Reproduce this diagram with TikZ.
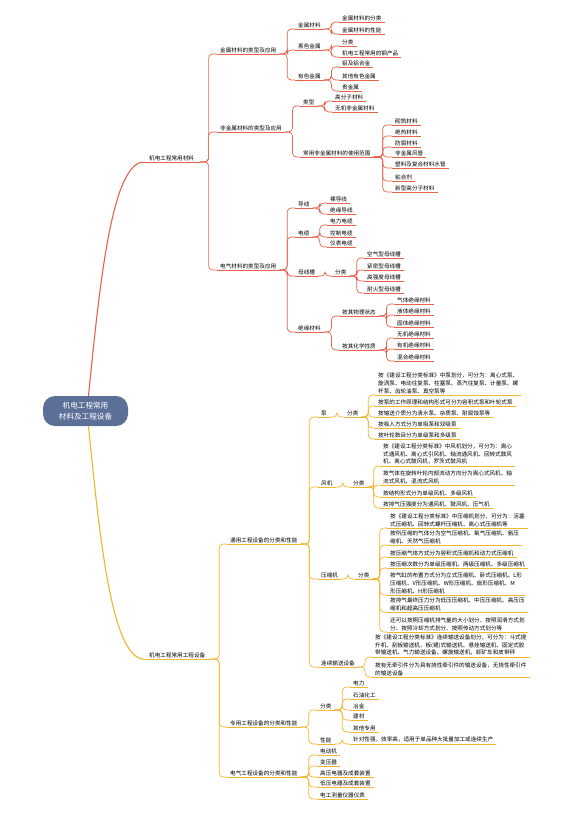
\documentclass[tikz,border=0pt]{standalone}
\usepackage{fontspec}
\setmainfont{Noto Sans CJK SC}
\usetikzlibrary{calc}
\definecolor{matred}{HTML}{E8624C}
\definecolor{devyel}{HTML}{F3B431}
\definecolor{rootblue}{HTML}{5B6F97}
\begin{document}
\begin{tikzpicture}[x=1pt,y=-1pt,
every node/.style={anchor=south west,inner xsep=3pt,inner ysep=1.3pt,align=left,text=black,font=\fontsize{5.6}{7.6}\selectfont},
root/.style={anchor=center,fill=rootblue,text=white,rounded corners=12pt,minimum width=85pt,minimum height=30pt,align=center,font=\fontsize{7.6}{10.5}\selectfont},
rt/.style={append after command={(\tikzlastnode.south west) edge[draw=matred,line width=.7pt] (\tikzlastnode.south east)}},
yt/.style={append after command={(\tikzlastnode.south west) edge[draw=devyel,line width=.7pt] (\tikzlastnode.south east)}},
link/.style={line width=.7pt,rounded corners=4pt,to path={-- ($(\tikztostart)!.5!(\tikztostart-|\tikztotarget)$) |- (\tikztotarget)}},
rl/.style={link,draw=matred},
yl/.style={link,draw=devyel}
]
\fill[white] (0,0) rectangle (585,813);

\node[root] (root) at (85.5,411) {机电工程常用\\材料及工程设备};

% materials
\node[rt,inner xsep=6pt] (m1) at (143,162) {机电工程常用材料};
\draw[matred,line width=1.1pt] ([xshift=3pt]root.north) .. controls (100,280) and (112,165) .. (m1.south west);

\node[rt] (a1) at (217,54) {金属材料的类型及应用};
\node[rt] (a2) at (217,132) {非金属材料的类型及应用};
\node[rt] (a3) at (217,270) {电气材料的类型及应用};
\foreach \n in {a1,a2,a3} \draw[rl] (m1.south east) to (\n.south west);

\node[rt] (b1) at (295,29) {金属材料};
\node[rt] (b2) at (295,50) {黑色金属};
\node[rt] (b3) at (295,80) {有色金属};
\foreach \n in {b1,b2,b3} \draw[rl] (a1.south east) to (\n.south west);
\foreach \t/\y [count=\i] in {金属材料的分类/22,金属材料的性能/34}
  {\node[rt] (b1-\i) at (339,\y) {\t}; \draw[rl] (b1.south east) to (b1-\i.south west);}
\foreach \t/\y [count=\i] in {分类/46,机电工程常用的钢产品/57}
  {\node[rt] (b2-\i) at (339,\y) {\t}; \draw[rl] (b2.south east) to (b2-\i.south west);}
\foreach \t/\y [count=\i] in {铝及铝合金/67,其他有色金属/80,贵金属/91}
  {\node[rt] (b3-\i) at (339,\y) {\t}; \draw[rl] (b3.south east) to (b3-\i.south west);}

\node[rt] (b4) at (300,106) {类型};
\node[rt] (b5) at (300,157) {常用非金属材料的使用范围};
\foreach \n in {b4,b5} \draw[rl] (a2.south east) to (\n.south west);
\foreach \t/\y [count=\i] in {高分子材料/101,无机非金属材料/112}
  {\node[rt] (b4-\i) at (332,\y) {\t}; \draw[rl] (b4.south east) to (b4-\i.south west);}
\foreach \t/\y [count=\i] in {砌筑材料/125,绝热材料/136,防腐材料/147,非金属风管/157,塑料及复合材料水管/168,粘合剂/181,新型高分子材料/192}
  {\node[rt] (b5-\i) at (392,\y) {\t}; \draw[rl] (b5.south east) to (b5-\i.south west);}

\node[rt] (b6) at (295,208) {导线};
\node[rt] (b7) at (295,237) {电缆};
\node[rt] (b8) at (295,276) {母线槽};
\node[rt] (b10) at (295,332) {绝缘材料};
\foreach \n in {b6,b7,b8,b10} \draw[rl] (a3.south east) to (\n.south west);
\foreach \t/\y [count=\i] in {裸导线/203,绝缘导线/214}
  {\node[rt] (b6-\i) at (327,\y) {\t}; \draw[rl] (b6.south east) to (b6-\i.south west);}
\foreach \t/\y [count=\i] in {电力电缆/225,控制电缆/237,仪表电缆/247}
  {\node[rt] (b7-\i) at (327,\y) {\t}; \draw[rl] (b7.south east) to (b7-\i.south west);}
\node[rt] (b9) at (332,276) {分类};
\draw[rl] (b8.south east) to (b9.south west);
\foreach \t/\y [count=\i] in {空气型母线槽/258,紧密型母线槽/270,高强度母线槽/281,耐火型母线槽/293}
  {\node[rt] (b9-\i) at (364,\y) {\t}; \draw[rl] (b9.south east) to (b9-\i.south west);}
\node[rt] (b11) at (339,316) {按其物理状态};
\node[rt] (b12) at (339,350) {按其化学性质};
\foreach \n in {b11,b12} \draw[rl] (b10.south east) to (\n.south west);
\foreach \t/\y [count=\i] in {气体绝缘材料/304,液体绝缘材料/315,固体绝缘材料/327}
  {\node[rt] (b11-\i) at (394,\y) {\t}; \draw[rl] (b11.south east) to (b11-\i.south west);}
\foreach \t/\y [count=\i] in {无机绝缘材料/338,有机绝缘材料/349,混合绝缘材料/361}
  {\node[rt] (b12-\i) at (394,\y) {\t}; \draw[rl] (b12.south east) to (b12-\i.south west);}

% equipment
\node[yt,inner xsep=6pt] (m2) at (143,659) {机电工程常用工程设备};
\draw[devyel,line width=1.1pt] ([xshift=3pt]root.south) .. controls (100,542) and (112,656) .. (m2.south west);

\node[yt] (a4) at (227,544) {通用工程设备的分类和性能};
\node[yt] (a5) at (227,727) {专用工程设备的分类和性能};
\node[yt] (a6) at (227,777) {电气工程设备的分类和性能};
\foreach \n in {a4,a5,a6} \draw[yl] (m2.south east) to (\n.south west);

\node[yt] (p) at (318,417) {泵};
\node[yt] (f) at (318,487) {风机};
\node[yt] (c) at (318,579) {压缩机};
\node[yt] (t) at (318,667) {连续输送设备};
\foreach \n in {p,f,c,t} \draw[yl] (a4.south east) to (\n.south west);

\node[yt] (p0) at (344,417) {分类};
\draw[yl] (p.south east) to (p0.south west);
\foreach \t/\y [count=\i] in {按《建设工程分类标准》中泵划分，可分为：离心式泵、\\旋涡泵、电动往复泵、柱塞泵、蒸汽往复泵、计量泵、螺\\杆泵、齿轮油泵、真空泵等/395,
  按泵的工作原理和结构形式可分为容积式泵和叶轮式泵/406,
  按输送介质分为清水泵、杂质泵、耐腐蚀泵等/417,
  按吸入方式分为单吸泵和双吸泵/428,
  按叶轮数目分为单级泵和多级泵/439}
  {\node[yt] (p0-\i) at (375,\y) {\t}; \draw[yl] (p0.south east) to (p0-\i.south west);}

\node[yt] (f0) at (350,487) {分类};
\draw[yl] (f.south east) to (f0.south west);
\foreach \t/\y [count=\i] in {按《建设工程分类标准》中风机划分，可分为：离心\\式通风机、离心式引风机、轴流通风机、回转式鼓风\\机、离心式鼓风机，罗茨式鼓风机/466,
  按气体在旋转叶轮内部流动方向分为离心式风机、轴\\流式风机、混流式风机/485,
  按结构形式分为单级风机、多级风机/497,
  按排气压强度分为通风机、鼓风机、压气机/508}
  {\node[yt] (f0-\i) at (380,\y) {\t}; \draw[yl] (f0.south east) to (f0-\i.south west);}

\node[yt] (c0) at (355,579) {分类};
\draw[yl] (c.south east) to (c0.south west);
\foreach \t/\y [count=\i] in {按《建设工程分类标准》中压缩机划分，可分为：活塞\\式压缩机、回转式螺杆压缩机、离心式压缩机等/528,
  按所压缩的气体分为空气压缩机、氧气压缩机、氨压\\缩机、天然气压缩机/545,
  按压缩气体方式分为容积式压缩机和动力式压缩机/557,
  按压缩次数分为单级压缩机、两级压缩机、多级压缩机/568,
  按气缸的布置方式分为立式压缩机、卧式压缩机、L形\\压缩机、V形压缩机、W形压缩机、扇形压缩机、M\\形压缩机、H形压缩机/595,
  按排气最终压力分为低压压缩机、中压压缩机、高压压\\缩机和超高压压缩机/612,
  还可以按照压缩机排气量的大小划分、按照润滑方式划\\分、按照冷却方式划分、按照传动方式划分等/632}
  {\node[yt] (c0-\i) at (387,\y) {\t}; \draw[yl] (c0.south east) to (c0-\i.south west);}

\foreach \t/\y [count=\i] in {按《建设工程分类标准》连续输送设备划分，可分为：斗式提\\升机、刮板输送机、板(裙)式输送机、悬挂输送机、固定式胶\\带输送机、气力输送设备、螺旋输送机，卸矿车和皮带秤/657,
  按有无牵引件分为具有挠性牵引件的输送设备，无挠性牵引件\\的输送设备/677}
  {\node[yt] (t-\i) at (372,\y) {\t}; \draw[yl] (t.south east) to (t-\i.south west);}

\node[yt] (s1) at (317,710) {分类};
\node[yt] (s2) at (317,744) {性能};
\foreach \n in {s1,s2} \draw[yl] (a5.south east) to (\n.south west);
\foreach \t/\y [count=\i] in {电力/687,石油化工/699,冶金/710,建材/720,其他专用/732}
  {\node[yt] (s1-\i) at (350,\y) {\t}; \draw[yl] (s1.south east) to (s1-\i.south west);}
\node[yt] (s2-1) at (350,744) {针对性强，效率高，适用于单品种大批量加工或连续生产};
\draw[yl] (s2.south east) to (s2-1.south west);

\foreach \t/\y [count=\i] in {电动机/755,变压器/766,高压电器及成套装置/777,低压电器及成套装置/787,电工测量仪器仪表/799}
  {\node[yt] (a6-\i) at (317,\y) {\t}; \draw[yl] (a6.south east) to (a6-\i.south west);}
\end{tikzpicture}
\end{document}
